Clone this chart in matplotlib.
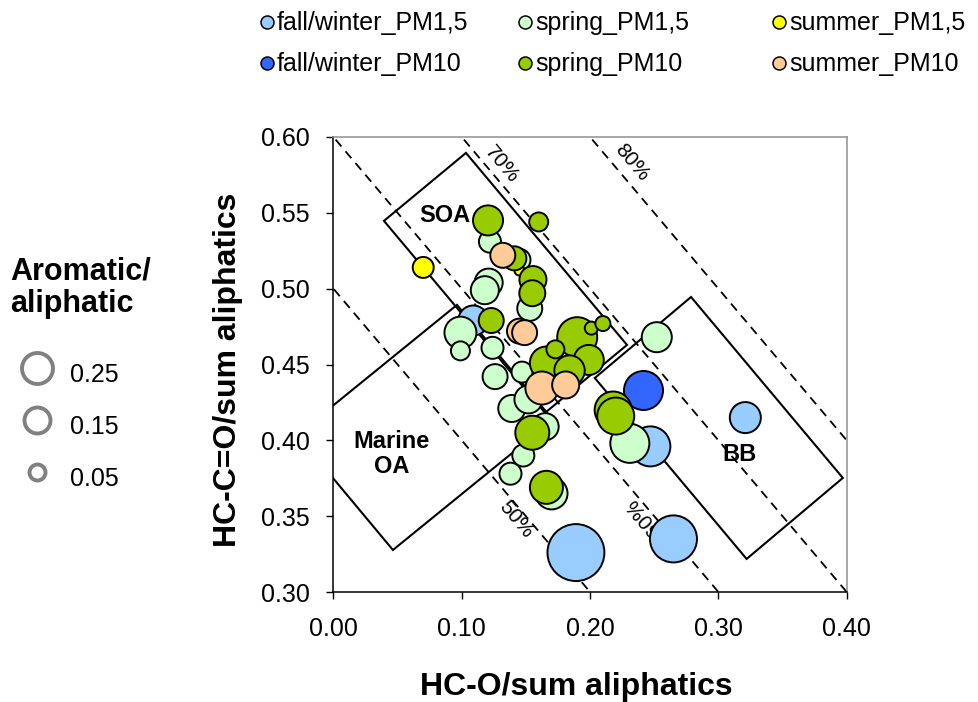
import matplotlib
matplotlib.use("Agg")
import matplotlib.pyplot as plt
from matplotlib.patches import Polygon
import numpy as np

plt.rcParams['font.family'] = ['Liberation Sans', 'DejaVu Sans']

# ---------------- data ----------------
series_names = ["fall/winter_PM1,5", "spring_PM1,5", "summer_PM1,5",
                "fall/winter_PM10", "spring_PM10", "summer_PM10"]
series_colors = ["#99CCFF", "#CCFFCC", "#FFFF00", "#3366FF", "#99CC00", "#FFCC99"]

fw_pm15_x = [0.109, 0.247, 0.321, 0.265, 0.189]
fw_pm15_y = [0.479, 0.396, 0.415, 0.335, 0.326]
fw_pm15_r = [0.195, 0.346, 0.208, 0.478, 0.70]

spring_pm15_x = [0.122, 0.145, 0.121, 0.118, 0.153, 0.099, 0.099, 0.124, 0.126,
                 0.147, 0.139, 0.152, 0.165, 0.148, 0.138, 0.170, 0.231, 0.252]
spring_pm15_y = [0.531, 0.519, 0.504, 0.499, 0.487, 0.471, 0.459, 0.461, 0.442,
                 0.445, 0.421, 0.427, 0.409, 0.390, 0.378, 0.365, 0.398, 0.468]
spring_pm15_r = [0.105, 0.105, 0.170, 0.170, 0.135, 0.221, 0.078, 0.105, 0.135,
                 0.095, 0.158, 0.170, 0.158, 0.105, 0.105, 0.221, 0.329, 0.195]

summer_pm15_x = [0.070, 0.145]
summer_pm15_y = [0.514, 0.512]
summer_pm15_r = [0.095, 0.022]

fw_pm10_x = [0.241]
fw_pm10_y = [0.433]
fw_pm10_r = [0.329]

spring_pm10_x = [0.1205, 0.160, 0.141, 0.1555, 0.155, 0.123, 0.190, 0.201, 0.210,
                 0.166, 0.173, 0.199, 0.184, 0.155, 0.166, 0.218, 0.220]
spring_pm10_y = [0.545, 0.544, 0.520, 0.506, 0.497, 0.479, 0.468, 0.474, 0.477,
                 0.451, 0.460, 0.453, 0.446, 0.405, 0.369, 0.420, 0.416]
spring_pm10_r = [0.195, 0.078, 0.125, 0.158, 0.146, 0.135, 0.346, 0.037, 0.049,
                 0.236, 0.070, 0.195, 0.200, 0.250, 0.236, 0.296, 0.296]

summer_pm10_x = [0.132, 0.145, 0.149, 0.1625, 0.181]
summer_pm10_y = [0.522, 0.472, 0.471, 0.4345, 0.4365]
summer_pm10_r = [0.135, 0.135, 0.135, 0.236, 0.158]

series_x = [fw_pm15_x, spring_pm15_x, summer_pm15_x, fw_pm10_x, spring_pm10_x, summer_pm10_x]
series_y = [fw_pm15_y, spring_pm15_y, summer_pm15_y, fw_pm10_y, spring_pm10_y, summer_pm10_y]
series_r = [fw_pm15_r, spring_pm15_r, summer_pm15_r, fw_pm10_r, spring_pm10_r, summer_pm10_r]

# diagonal iso-lines
iso_levels = [0.5, 0.6, 0.7, 0.8]
iso_labels = ["50%", "60%", "70%", "80%"]
iso_label_xy = [(0.1423, 0.3475), (0.2416, 0.3495), (0.131, 0.582), (0.2329, 0.583)]
iso_label_rot = [-49.8, 130.2, -49.8, -49.8]

# source region boxes
soa_box = [(0.0394, 0.5447), (0.1033, 0.5895), (0.2288, 0.4629), (0.1649, 0.4181)]
marine_box = [(-0.0284, 0.4036), (0.0963, 0.4893), (0.1711, 0.4135), (0.0464, 0.3277)]
bb_box = [(0.2037, 0.4411), (0.2787, 0.4945), (0.3970, 0.3752), (0.3220, 0.3218)]
box_labels = ["SOA", "Marine\nOA", "BB"]
box_label_xy = [(0.087, 0.548), (0.0456, 0.391), (0.3168, 0.3904)]

size_legend_values = ["0.25", "0.15", "0.05"]
size_legend_diam_px = [31, 26, 16]

xticks = [0.0, 0.1, 0.2, 0.3, 0.4]
yticks = [0.30, 0.35, 0.40, 0.45, 0.50, 0.55, 0.60]

# ---------------- figure ----------------
W, H = 979, 702
fig = plt.figure(figsize=(W / 100, H / 100), dpi=100)
L, R, T, B = 333.4, 846.7, 137, 592
ax = fig.add_axes([L / W, 1 - B / H, (R - L) / W, (B - T) / H])
ax.set_xlim(0, 0.4)
ax.set_ylim(0.3, 0.6)

xx = np.array([-0.1, 0.5])
for c in iso_levels:
    ax.plot(xx, c - xx, color="black", lw=1.3, ls=(0, (5, 3.5)), zorder=1)
for lab, (lx, ly), rot in zip(iso_labels, iso_label_xy, iso_label_rot):
    ax.text(lx, ly, lab, rotation=rot, rotation_mode="anchor", ha="center", va="center",
            fontsize=15, zorder=1.5)

for box in [soa_box, marine_box, bb_box]:
    ax.add_patch(Polygon(box, closed=True, fill=False, edgecolor="black", lw=1.5, zorder=1.2))
for lab, (lx, ly) in zip(box_labels, box_label_xy):
    ax.text(lx, ly, lab, ha="center", va="center", fontsize=17, fontweight="bold",
            linespacing=1.15, zorder=1.5)

K = 2400.0
for xs, ys, rs, col in zip(series_x, series_y, series_r, series_colors):
    ax.scatter(xs, ys, s=[K * r for r in rs], c=col, edgecolors="black",
               linewidths=1.4, zorder=3)

ax.set_xticks(xticks)
ax.set_xticklabels([f"{v:.2f}" for v in xticks])
ax.set_yticks(yticks)
ax.set_yticklabels([f"{v:.2f}" for v in yticks])
ax.tick_params(axis="both", direction="out", length=5, width=1, labelsize=18, colors="black")
ax.tick_params(axis="x", pad=13)
ax.tick_params(axis="y", pad=12)
for side in ["left", "bottom"]:
    ax.spines[side].set_color("black")
    ax.spines[side].set_linewidth(1.1)
for side in ["top", "right"]:
    ax.spines[side].set_color("#909090")
    ax.spines[side].set_linewidth(1.1)

fig.text(576 / W, 1 - 695 / H, "HC-O/sum aliphatics", ha="center", va="baseline",
         fontsize=23, fontweight="bold")
fig.text(228 / W, 1 - 370 / H, "HC-C=O/sum aliphatics", ha="center", va="center",
         rotation=90, fontsize=23, fontweight="bold")

ov = fig.add_axes([0, 0, 1, 1], facecolor="none")
ov.set_xlim(0, W)
ov.set_ylim(H, 0)
ov.axis("off")

leg_col_x = [267, 525, 779]
leg_row_y = [22, 63]
for i, (name, col) in enumerate(zip(series_names, series_colors)):
    cx = leg_col_x[i % 3]
    cy = leg_row_y[i // 3]
    ov.scatter([cx], [cy], s=(13 * 0.72) ** 2, c=col, edgecolors="black", linewidths=1.1)
    ov.text(cx + 10, cy + 1, name, ha="left", va="center", fontsize=18)

ov.text(10, 288, "Aromatic/\naliphatic", ha="left", va="center", fontsize=22,
        fontweight="bold", linespacing=1.1)
size_leg_y = [368, 420, 472]
for val, dpx, sy in zip(size_legend_values, size_legend_diam_px, size_leg_y):
    ov.scatter([37], [sy], s=(dpx * 0.72) ** 2, facecolors="white", edgecolors="#808080",
               linewidths=2.8)
    ov.text(70, sy + 7, val, ha="left", va="center", fontsize=18)

fig.savefig("out.png", dpi=100)
